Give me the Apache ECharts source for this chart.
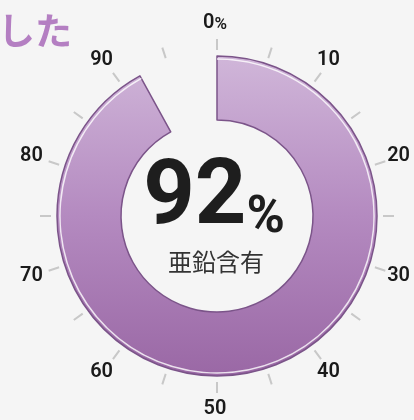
<!DOCTYPE html>
<html><head><meta charset="utf-8">
<script src="https://cdn.jsdelivr.net/npm/echarts@6/dist/echarts.min.js"></script>
<style>html,body{margin:0;padding:0;background:#f5f5f5;}#c{width:414px;height:420px;}</style>
</head><body><div id="c"></div>
<script>
// data
const percentValue = 92;
const remainderValue = 100 - percentValue;
const scaleMin = 0;
const scaleMax = 100;
const scaleStep = 10;
const tickValues = [0, 10, 20, 30, 40, 50, 60, 70, 80, 90];
const tickLabels = ['0', '10', '20', '30', '40', '50', '60', '70', '80', '90'];
const centerLabel = '亜鉛含有';
const headingText = 'した';

const chart = echarts.init(document.getElementById('c'), null, {renderer: 'canvas'});
const cx = 217, cy = 216;
const tickStyle = {color: '#c8c8c8', width: 2};
const digitFont = 'Roboto';
const labelRadius = 193;

chart.setOption({
  backgroundColor: '#f5f5f5',
  animation: false,
  polar: {center: [cx, cy], radius: 166},
  radiusAxis: {show: false, min: 0, max: 166},
  angleAxis: {
    type: 'value', min: scaleMin, max: scaleMax, interval: scaleStep,
    startAngle: 90, clockwise: true,
    axisLine: {show: false},
    splitLine: {show: false},
    axisTick: {show: true, length: 11, lineStyle: tickStyle},
    minorTick: {show: true, splitNumber: 2, length: 11, lineStyle: tickStyle},
    axisLabel: {show: false}
  },
  graphic: [
    {type: 'text', left: -2, top: 12, style: {text: headingText, fill: '#b47fc2', font: 'bold 37px "Noto Sans CJK JP"'}},
    {type: 'text', x: 214, y: 200, style: {
      text: '{a|' + percentValue + '}{b|%}', align: 'center', verticalAlign: 'middle',
      rich: {
        a: {fontFamily: digitFont, fontWeight: 'bold', fontSize: 90, fill: '#1e1e1e', color: '#1e1e1e'},
        b: {fontFamily: digitFont, fontWeight: 'bold', fontSize: 52, fill: '#1e1e1e', color: '#1e1e1e', verticalAlign: 'bottom'}
      }
    }},
    {type: 'text', x: 216, y: 262, style: {text: centerLabel, align: 'center', verticalAlign: 'middle', fill: '#333', font: '24px "Noto Sans CJK JP"'}}
  ],
  series: [
    {
      type: 'pie', silent: true, center: [cx, cy], radius: [96, 160],
      startAngle: 90, clockwise: true, label: {show: false}, labelLine: {show: false},
      data: [
        {value: percentValue, itemStyle: {
          color: {type: 'linear', x: 0, y: 56, x2: 0, y2: 376, global: true,
            colorStops: [{offset: 0, color: '#d0b6d9'}, {offset: 0.5, color: '#b48ac0'}, {offset: 1, color: '#9a68a5'}]},
          borderColor: '#7b5489', borderWidth: 1.5}},
        {value: remainderValue, itemStyle: {color: 'rgba(0,0,0,0)', borderWidth: 0}}
      ]
    },
    {
      type: 'pie', silent: true, center: [cx, cy], radius: [156.3, 157.8],
      startAngle: 90, clockwise: true, label: {show: false}, labelLine: {show: false},
      data: [
        {value: percentValue, itemStyle: {color: 'rgba(255,255,255,0.8)', borderWidth: 0}},
        {value: remainderValue, itemStyle: {color: 'rgba(0,0,0,0)', borderWidth: 0}}
      ]
    },
    {
      type: 'custom', coordinateSystem: 'polar', silent: true, clip: false,
      data: tickValues.map(function (v, i) { return [0, v, i]; }),
      renderItem: function (params, api) {
        const v = api.value(1);
        const idx = api.value(2);
        const pt = api.coord([labelRadius, v]);
        const txt = v === scaleMin ? '{n|' + tickLabels[idx] + '}{p|%}' : '{n|' + tickLabels[idx] + '}';
        return {
          type: 'text', x: pt[0] - 2, y: pt[1],
          style: {
            text: txt, align: 'center', verticalAlign: 'middle',
            rich: {
              n: {font: '600 20px Roboto', fill: '#1a1a1a'},
              p: {font: '600 17px Roboto', fill: '#1a1a1a', verticalAlign: 'bottom'}
            }
          }
        };
      }
    }
  ]
});
</script></body></html>
